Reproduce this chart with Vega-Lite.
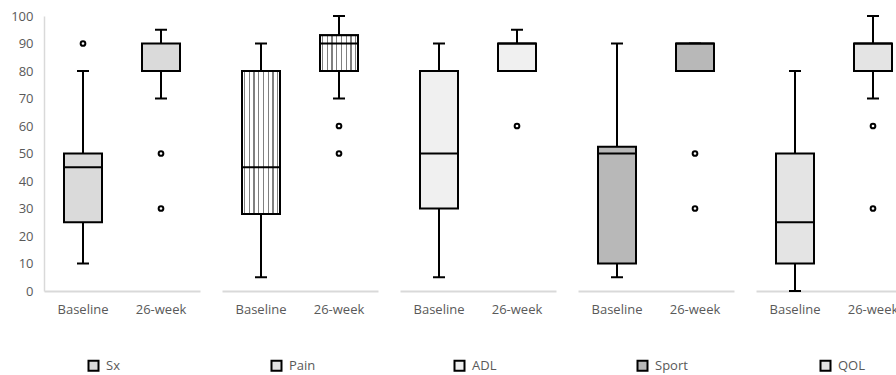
{
  "$schema": "https://vega.github.io/schema/vega-lite/v6.json",
  "padding": {"left": 10, "top": 10, "right": 0, "bottom": 0},
  "background": "white",
  "config": {
    "view": {"stroke": null},
    "font": "Open Sans",
    "axis": {"labelFont": "Open Sans", "labelFontSize": 13, "labelColor": "#595959"},
    "legend": {"labelFont": "Open Sans", "labelFontSize": 13, "labelColor": "#595959"},
    "rule": {"color": "black", "strokeWidth": 2, "opacity": 1},
    "tick": {"color": "black", "thickness": 2, "opacity": 1},
    "bar": {"stroke": "black", "strokeWidth": 2, "opacity": 1},
    "point": {"shape": "circle", "size": 22, "filled": true, "fill": "white", "stroke": "black", "strokeWidth": 2, "opacity": 1}
  },
  "data": {
    "values": [
      {"measure": "Sx", "time": "Baseline", "lower": 10, "q1": 25, "median": 45, "q3": 50, "upper": 80},
      {"measure": "Sx", "time": "26-week", "lower": 70, "q1": 80, "median": 80, "q3": 90, "upper": 95},
      {"measure": "Pain", "time": "Baseline", "lower": 5, "q1": 28, "median": 45, "q3": 80, "upper": 90},
      {"measure": "Pain", "time": "26-week", "lower": 70, "q1": 80, "median": 90, "q3": 93, "upper": 100},
      {"measure": "ADL", "time": "Baseline", "lower": 5, "q1": 30, "median": 50, "q3": 80, "upper": 90},
      {"measure": "ADL", "time": "26-week", "lower": 80, "q1": 80, "median": 90, "q3": 90, "upper": 95},
      {"measure": "Sport", "time": "Baseline", "lower": 5, "q1": 10, "median": 50, "q3": 52.5, "upper": 90},
      {"measure": "Sport", "time": "26-week", "lower": 80, "q1": 80, "median": 90, "q3": 90, "upper": 90},
      {"measure": "QOL", "time": "Baseline", "lower": 0, "q1": 10, "median": 25, "q3": 50, "upper": 80},
      {"measure": "QOL", "time": "26-week", "lower": 70, "q1": 80, "median": 90, "q3": 90, "upper": 100},
      {"measure": "Sx", "time": "Baseline", "outlier": 90},
      {"measure": "Sx", "time": "26-week", "outlier": 50},
      {"measure": "Sx", "time": "26-week", "outlier": 30},
      {"measure": "Pain", "time": "26-week", "outlier": 60},
      {"measure": "Pain", "time": "26-week", "outlier": 50},
      {"measure": "ADL", "time": "26-week", "outlier": 60},
      {"measure": "Sport", "time": "26-week", "outlier": 50},
      {"measure": "Sport", "time": "26-week", "outlier": 30},
      {"measure": "QOL", "time": "26-week", "outlier": 60},
      {"measure": "QOL", "time": "26-week", "outlier": 30}
    ]
  },
  "spacing": 22,
  "resolve": {"scale": {"y": "shared", "fill": "shared"}, "legend": {"fill": "shared"}},
  "hconcat": [
    {
      "width": 156, "height": 275,
      "transform": [{"filter": "datum.measure == 'Sx'"}],
      "encoding": {"x": {"field": "time", "type": "nominal", "sort": ["Baseline", "26-week"], "scale": {"paddingInner": 0, "paddingOuter": 0},
        "axis": {"title": null, "labelAngle": 0, "ticks": false, "labelPadding": 12, "domainColor": "#d9d9d9", "domainWidth": 2}}},
      "layer": [
        {"transform": [{"filter": "datum.q1 != null"}], "mark": "rule",
         "encoding": {"y": {"field": "lower", "type": "quantitative", "scale": {"domain": [0, 100], "nice": false},
           "axis": {"title": null, "values": [0, 10, 20, 30, 40, 50, 60, 70, 80, 90, 100], "labelOverlap": false, "grid": false, "ticks": false, "labelPadding": 11, "domainColor": "#d9d9d9", "domainWidth": 1.5}},
           "y2": {"field": "upper"}}},
        {"transform": [{"filter": "datum.q1 != null"}], "mark": {"type": "tick", "size": 12},
         "encoding": {"y": {"field": "lower", "type": "quantitative", "axis": {"title": null, "values": [0, 10, 20, 30, 40, 50, 60, 70, 80, 90, 100], "labelOverlap": false, "grid": false, "ticks": false, "labelPadding": 11, "domainColor": "#d9d9d9", "domainWidth": 1.5}}}},
        {"transform": [{"filter": "datum.q1 != null"}], "mark": {"type": "tick", "size": 12},
         "encoding": {"y": {"field": "upper", "type": "quantitative", "axis": {"title": null, "values": [0, 10, 20, 30, 40, 50, 60, 70, 80, 90, 100], "labelOverlap": false, "grid": false, "ticks": false, "labelPadding": 11, "domainColor": "#d9d9d9", "domainWidth": 1.5}}}},
        {"transform": [{"filter": "datum.q1 != null"}], "mark": {"type": "bar", "size": 38},
         "encoding": {"y": {"field": "q1", "type": "quantitative", "axis": {"title": null, "values": [0, 10, 20, 30, 40, 50, 60, 70, 80, 90, 100], "labelOverlap": false, "grid": false, "ticks": false, "labelPadding": 11, "domainColor": "#d9d9d9", "domainWidth": 1.5}},
           "y2": {"field": "q3"},
           "fill": {"field": "measure", "type": "nominal",
             "scale": {"domain": ["Sx", "Pain", "ADL", "Sport", "QOL"], "range": ["#dadada", "#e2e2e2", "#f0f0f0", "#b8b8b8", "#e4e4e4"]},
             "legend": {"title": null, "orient": "none", "legendX": 43, "legendY": 343, "direction": "horizontal", "columns": 5,
               "gridAlign": "all", "columnPadding": 128, "symbolType": "square", "symbolSize": 100,
               "symbolStrokeColor": "black", "symbolStrokeWidth": 1.5, "symbolOpacity": 1, "labelOffset": 6}}}},
        {"transform": [{"filter": "datum.q1 != null"}], "mark": {"type": "tick", "size": 38},
         "encoding": {"y": {"field": "median", "type": "quantitative", "axis": {"title": null, "values": [0, 10, 20, 30, 40, 50, 60, 70, 80, 90, 100], "labelOverlap": false, "grid": false, "ticks": false, "labelPadding": 11, "domainColor": "#d9d9d9", "domainWidth": 1.5}}}},
        {"transform": [{"filter": "datum.outlier != null"}], "mark": "point",
         "encoding": {"y": {"field": "outlier", "type": "quantitative", "axis": {"title": null, "values": [0, 10, 20, 30, 40, 50, 60, 70, 80, 90, 100], "labelOverlap": false, "grid": false, "ticks": false, "labelPadding": 11, "domainColor": "#d9d9d9", "domainWidth": 1.5}}}}
      ]
    },
    {
      "width": 156, "height": 275,
      "transform": [{"filter": "datum.measure == 'Pain'"}],
      "encoding": {"x": {"field": "time", "type": "nominal", "sort": ["Baseline", "26-week"], "scale": {"paddingInner": 0, "paddingOuter": 0},
        "axis": {"title": null, "labelAngle": 0, "ticks": false, "labelPadding": 12, "domainColor": "#d9d9d9", "domainWidth": 2}}},
      "layer": [
        {"transform": [{"filter": "datum.q1 != null"}], "mark": "rule",
         "encoding": {"y": {"field": "lower", "type": "quantitative", "scale": {"domain": [0, 100], "nice": false}, "axis": null}, "y2": {"field": "upper"}}},
        {"transform": [{"filter": "datum.q1 != null"}], "mark": {"type": "tick", "size": 12},
         "encoding": {"y": {"field": "lower", "type": "quantitative", "axis": null}}},
        {"transform": [{"filter": "datum.q1 != null"}], "mark": {"type": "tick", "size": 12},
         "encoding": {"y": {"field": "upper", "type": "quantitative", "axis": null}}},
        {"transform": [{"filter": "datum.q1 != null"}], "mark": {"type": "bar", "size": 38},
         "encoding": {"y": {"field": "q1", "type": "quantitative", "axis": null}, "y2": {"field": "q3"},
           "fill": {"field": "measure", "type": "nominal", "scale": {"domain": ["Sx", "Pain", "ADL", "Sport", "QOL"], "range": ["#dadada", "#e2e2e2", "#f0f0f0", "#b8b8b8", "#e4e4e4"]}}}},
        {"transform": [{"filter": "datum.q1 != null"}],
         "mark": {"type": "bar", "size": 38,
          "fill": {"gradient": "linear", "x1": 0, "y1": 0, "x2": 1, "y2": 0, "stops": [
            {"offset": 0, "color": "#ffffff"}, {"offset": 0.05, "color": "#ffffff"}, {"offset": 0.05, "color": "#808080"}, {"offset": 0.08, "color": "#808080"},
            {"offset": 0.08, "color": "#ffffff"}, {"offset": 0.175, "color": "#ffffff"}, {"offset": 0.175, "color": "#808080"}, {"offset": 0.205, "color": "#808080"},
            {"offset": 0.205, "color": "#ffffff"}, {"offset": 0.3, "color": "#ffffff"}, {"offset": 0.3, "color": "#808080"}, {"offset": 0.33, "color": "#808080"},
            {"offset": 0.33, "color": "#ffffff"}, {"offset": 0.425, "color": "#ffffff"}, {"offset": 0.425, "color": "#808080"}, {"offset": 0.455, "color": "#808080"},
            {"offset": 0.455, "color": "#ffffff"}, {"offset": 0.55, "color": "#ffffff"}, {"offset": 0.55, "color": "#808080"}, {"offset": 0.58, "color": "#808080"},
            {"offset": 0.58, "color": "#ffffff"}, {"offset": 0.675, "color": "#ffffff"}, {"offset": 0.675, "color": "#808080"}, {"offset": 0.705, "color": "#808080"},
            {"offset": 0.705, "color": "#ffffff"}, {"offset": 0.8, "color": "#ffffff"}, {"offset": 0.8, "color": "#808080"}, {"offset": 0.83, "color": "#808080"},
            {"offset": 0.83, "color": "#ffffff"}, {"offset": 0.925, "color": "#ffffff"}, {"offset": 0.925, "color": "#808080"}, {"offset": 0.955, "color": "#808080"},
            {"offset": 0.955, "color": "#ffffff"}, {"offset": 1, "color": "#ffffff"}
          ]}},
         "encoding": {"y": {"field": "q1", "type": "quantitative", "axis": null}, "y2": {"field": "q3"}}},
        {"transform": [{"filter": "datum.q1 != null"}], "mark": {"type": "tick", "size": 38},
         "encoding": {"y": {"field": "median", "type": "quantitative", "axis": null}}},
        {"transform": [{"filter": "datum.outlier != null"}], "mark": "point",
         "encoding": {"y": {"field": "outlier", "type": "quantitative", "axis": null}}}
      ]
    },
    {
      "width": 156, "height": 275,
      "transform": [{"filter": "datum.measure == 'ADL'"}],
      "encoding": {"x": {"field": "time", "type": "nominal", "sort": ["Baseline", "26-week"], "scale": {"paddingInner": 0, "paddingOuter": 0},
        "axis": {"title": null, "labelAngle": 0, "ticks": false, "labelPadding": 12, "domainColor": "#d9d9d9", "domainWidth": 2}}},
      "layer": [
        {"transform": [{"filter": "datum.q1 != null"}], "mark": "rule",
         "encoding": {"y": {"field": "lower", "type": "quantitative", "scale": {"domain": [0, 100], "nice": false}, "axis": null}, "y2": {"field": "upper"}}},
        {"transform": [{"filter": "datum.q1 != null"}], "mark": {"type": "tick", "size": 12},
         "encoding": {"y": {"field": "lower", "type": "quantitative", "axis": null}}},
        {"transform": [{"filter": "datum.q1 != null"}], "mark": {"type": "tick", "size": 12},
         "encoding": {"y": {"field": "upper", "type": "quantitative", "axis": null}}},
        {"transform": [{"filter": "datum.q1 != null"}], "mark": {"type": "bar", "size": 38},
         "encoding": {"y": {"field": "q1", "type": "quantitative", "axis": null}, "y2": {"field": "q3"},
           "fill": {"field": "measure", "type": "nominal", "scale": {"domain": ["Sx", "Pain", "ADL", "Sport", "QOL"], "range": ["#dadada", "#e2e2e2", "#f0f0f0", "#b8b8b8", "#e4e4e4"]}}}},
        {"transform": [{"filter": "datum.q1 != null"}], "mark": {"type": "tick", "size": 38},
         "encoding": {"y": {"field": "median", "type": "quantitative", "axis": null}}},
        {"transform": [{"filter": "datum.outlier != null"}], "mark": "point",
         "encoding": {"y": {"field": "outlier", "type": "quantitative", "axis": null}}}
      ]
    },
    {
      "width": 156, "height": 275,
      "transform": [{"filter": "datum.measure == 'Sport'"}],
      "encoding": {"x": {"field": "time", "type": "nominal", "sort": ["Baseline", "26-week"], "scale": {"paddingInner": 0, "paddingOuter": 0},
        "axis": {"title": null, "labelAngle": 0, "ticks": false, "labelPadding": 12, "domainColor": "#d9d9d9", "domainWidth": 2}}},
      "layer": [
        {"transform": [{"filter": "datum.q1 != null"}], "mark": "rule",
         "encoding": {"y": {"field": "lower", "type": "quantitative", "scale": {"domain": [0, 100], "nice": false}, "axis": null}, "y2": {"field": "upper"}}},
        {"transform": [{"filter": "datum.q1 != null"}], "mark": {"type": "tick", "size": 12},
         "encoding": {"y": {"field": "lower", "type": "quantitative", "axis": null}}},
        {"transform": [{"filter": "datum.q1 != null"}], "mark": {"type": "tick", "size": 12},
         "encoding": {"y": {"field": "upper", "type": "quantitative", "axis": null}}},
        {"transform": [{"filter": "datum.q1 != null"}], "mark": {"type": "bar", "size": 38},
         "encoding": {"y": {"field": "q1", "type": "quantitative", "axis": null}, "y2": {"field": "q3"},
           "fill": {"field": "measure", "type": "nominal", "scale": {"domain": ["Sx", "Pain", "ADL", "Sport", "QOL"], "range": ["#dadada", "#e2e2e2", "#f0f0f0", "#b8b8b8", "#e4e4e4"]}}}},
        {"transform": [{"filter": "datum.q1 != null"}], "mark": {"type": "tick", "size": 38},
         "encoding": {"y": {"field": "median", "type": "quantitative", "axis": null}}},
        {"transform": [{"filter": "datum.outlier != null"}], "mark": "point",
         "encoding": {"y": {"field": "outlier", "type": "quantitative", "axis": null}}}
      ]
    },
    {
      "width": 156, "height": 275,
      "transform": [{"filter": "datum.measure == 'QOL'"}],
      "encoding": {"x": {"field": "time", "type": "nominal", "sort": ["Baseline", "26-week"], "scale": {"paddingInner": 0, "paddingOuter": 0},
        "axis": {"title": null, "labelAngle": 0, "ticks": false, "labelPadding": 12, "domainColor": "#d9d9d9", "domainWidth": 2}}},
      "layer": [
        {"transform": [{"filter": "datum.q1 != null"}], "mark": "rule",
         "encoding": {"y": {"field": "lower", "type": "quantitative", "scale": {"domain": [0, 100], "nice": false}, "axis": null}, "y2": {"field": "upper"}}},
        {"transform": [{"filter": "datum.q1 != null"}], "mark": {"type": "tick", "size": 12},
         "encoding": {"y": {"field": "lower", "type": "quantitative", "axis": null}}},
        {"transform": [{"filter": "datum.q1 != null"}], "mark": {"type": "tick", "size": 12},
         "encoding": {"y": {"field": "upper", "type": "quantitative", "axis": null}}},
        {"transform": [{"filter": "datum.q1 != null"}], "mark": {"type": "bar", "size": 38},
         "encoding": {"y": {"field": "q1", "type": "quantitative", "axis": null}, "y2": {"field": "q3"},
           "fill": {"field": "measure", "type": "nominal", "scale": {"domain": ["Sx", "Pain", "ADL", "Sport", "QOL"], "range": ["#dadada", "#e2e2e2", "#f0f0f0", "#b8b8b8", "#e4e4e4"]}}}},
        {"transform": [{"filter": "datum.q1 != null"}], "mark": {"type": "tick", "size": 38},
         "encoding": {"y": {"field": "median", "type": "quantitative", "axis": null}}},
        {"transform": [{"filter": "datum.outlier != null"}], "mark": "point",
         "encoding": {"y": {"field": "outlier", "type": "quantitative", "axis": null}}}
      ]
    }
  ]
}
